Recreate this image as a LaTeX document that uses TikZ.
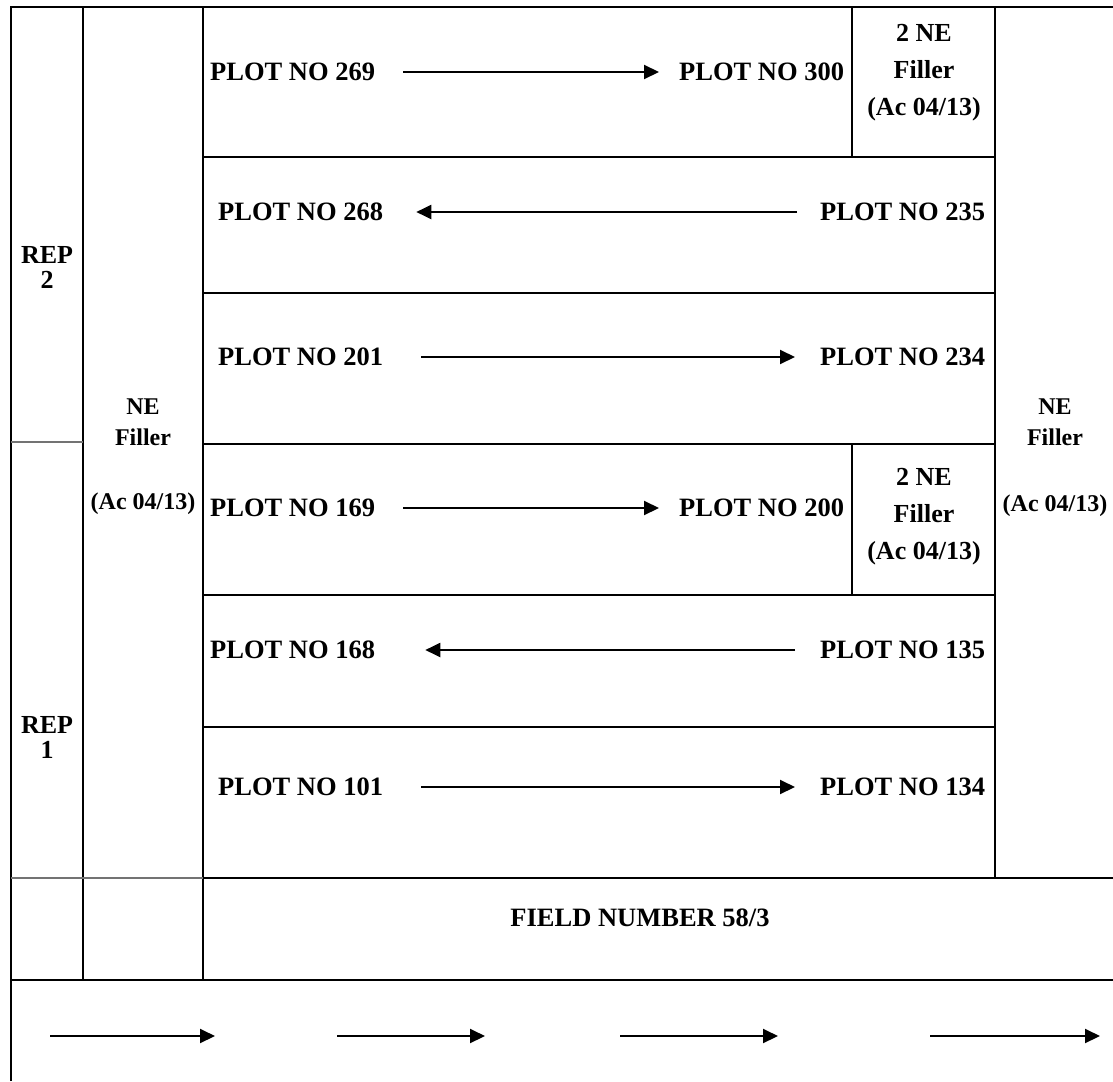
\documentclass[tikz,border=0pt]{standalone}
\usepackage{fontspec}
\setmainfont{Liberation Serif}
\usetikzlibrary{arrows.meta, positioning}

\begin{document}
\begin{tikzpicture}[x=1pt, y=-1pt, >={Triangle[length=15pt, width=14pt]},
    grid/.style={line width=2.6pt},
    faint/.style={line width=1.3pt, black!55},
    plotlbl/.style={inner sep=0pt, anchor=west, font=\fontsize{26.5}{31}\selectfont\bfseries},
    replbl/.style={inner sep=0pt, align=center, anchor=north, font=\fontsize{26}{25}\selectfont\bfseries},
    sidelbl/.style={inner sep=0pt, align=center, anchor=north, font=\fontsize{24}{31}\selectfont\bfseries},
    fillbox/.style={inner sep=0pt, align=center, font=\fontsize{26}{37}\selectfont\bfseries},
    flow/.style={->, line width=2pt}]
  \useasboundingbox (0,0) rectangle (1113,1081);

  % Grid
  \draw[grid] (11,1081) -- (11,7) -- (1113,7);
  \draw[grid] (83,7) -- (83,980);
  \draw[grid] (203,7) -- (203,980);
  \draw[grid] (995,7) -- (995,878);
  \foreach \y in {157,293,444,595,727}
    \draw[grid] (203,\y) -- (995,\y);
  \draw[grid] (203,878) -- (1113,878);
  \draw[grid] (11,980) -- (1113,980);
  \draw[grid] (852,7) -- (852,157);
  \draw[grid] (852,444) -- (852,595);
  \draw[faint] (11,442) -- (83,442);
  \draw[faint] (11,878) -- (203,878);

  % Plot labels
  \node[plotlbl] (p269) at (210,72) {PLOT NO 269};
  \node[plotlbl] (p300) at (679,72) {PLOT NO 300};
  \node[plotlbl] (p268) at (218,212) {PLOT NO 268};
  \node[plotlbl] (p235) at (820,212) {PLOT NO 235};
  \node[plotlbl] (p201) at (218,357) {PLOT NO 201};
  \node[plotlbl] (p234) at (820,357) {PLOT NO 234};
  \node[plotlbl] (p169) at (210,508) {PLOT NO 169};
  \node[plotlbl] (p200) at (679,508) {PLOT NO 200};
  \node[plotlbl] (p168) at (210,650) {PLOT NO 168};
  \node[plotlbl] (p135) at (820,650) {PLOT NO 135};
  \node[plotlbl] (p101) at (218,787) {PLOT NO 101};
  \node[plotlbl] (p134) at (820,787) {PLOT NO 134};
  \node[plotlbl, anchor=center] (field) at (640,918) {FIELD NUMBER 58/3};

  % Fillers and reps
  \node[fillbox] (fill300) at (924,73) {2 NE\\Filler\\(Ac 04/13)};
  \node[fillbox] (fill200) at (924,517) {2 NE\\Filler\\(Ac 04/13)};
  \node[sidelbl] (fillL) at (143,399) {NE\\Filler\\[33pt](Ac 04/13)};
  \node[sidelbl] (fillR) at (1055,399) {NE\\Filler\\[35pt](Ac 04/13)};
  \node[replbl] (rep2) at (47,246) {REP\\2};
  \node[replbl] (rep1) at (47,716) {REP\\1};

  % Arrows
  \draw[flow] ([xshift=28pt]p269.east) -- ([xshift=-20pt]p300.west);
  \draw[flow] ([xshift=-23pt]p235.west) -- ([xshift=33pt]p268.east);
  \draw[flow] ([xshift=38pt]p201.east) -- ([xshift=-25pt]p234.west);
  \draw[flow] ([xshift=28pt]p169.east) -- ([xshift=-20pt]p200.west);
  \draw[flow] ([xshift=-25pt]p135.west) -- ([xshift=50pt]p168.east);
  \draw[flow] ([xshift=38pt]p101.east) -- ([xshift=-25pt]p134.west);

  % Direction row
  \foreach \a/\b [count=\i] in {50/215, 337/485, 620/778, 930/1100} {
    \coordinate (s\i) at (\a,1036);
    \coordinate (e\i) at (\b,1036);
    \draw[flow] (s\i) -- (e\i);
  }
\end{tikzpicture}
\end{document}
